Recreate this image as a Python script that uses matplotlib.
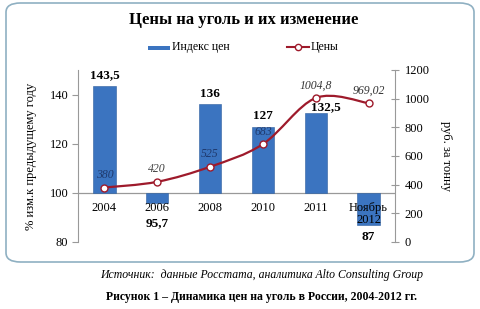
import matplotlib
matplotlib.use("Agg")
import matplotlib.pyplot as plt
import numpy as np
from matplotlib.patches import FancyBboxPatch, Rectangle
from matplotlib.path import Path
from matplotlib.patches import PathPatch
from matplotlib.lines import Line2D

plt.rcParams['font.family'] = ['Liberation Serif', 'DejaVu Serif']

categories = ["2004", "2006", "2008", "2010", "2011", "Ноябрь\n2012"]
index_values = [143.5, 95.7, 136, 127, 132.5, 87]
index_labels = ["143,5", "95,7", "136", "127", "132,5", "87"]
prices = [380, 420, 525, 683, 1004.8, 969.02]
price_labels = ["380", "420", "525", "683", "1004,8", "969,02"]
left_ticks = [80, 100, 120, 140]
right_ticks = [0, 200, 400, 600, 800, 1000, 1200]

fig = plt.figure(figsize=(4.8, 3.09), dpi=100)
fig.patch.set_facecolor('white')

# frame
frame = FancyBboxPatch((6/480, 1-262/309), 468/480, 259/309,
                       boxstyle="round,pad=0,rounding_size=0.03",
                       transform=fig.transFigure, facecolor='none',
                       edgecolor='#8fb0c2', linewidth=1.2, zorder=-1)
fig.patches.append(frame)

ax = fig.add_axes([78/480, 1-242/309, 317/480, 172/309])
ax.set_facecolor('none')
ax2 = ax.twinx()

x = np.arange(len(categories))
base = 100
ax.bar(x, np.array(index_values) - base, bottom=base, width=0.42,
       color='#3b74c0', edgecolor='#2f5f9e', linewidth=0.4, zorder=2)
ax.axhline(100, color='#999999', linewidth=0.9, zorder=1)
ax.set_ylim(80, 150)
ax.set_xlim(-0.5, len(categories) - 0.5)
ax.set_yticks(left_ticks)
ax.set_yticklabels([str(t) for t in left_ticks], fontsize=9)
ax.set_xticks([])
for s in ['top', 'bottom']:
    ax.spines[s].set_visible(False)
    ax2.spines[s].set_visible(False)
ax.spines['left'].set_color('#999999')
ax2.spines['right'].set_color('#999999')
ax.spines['right'].set_visible(False)
ax2.spines['left'].set_visible(False)
ax.tick_params(axis='y', color='#999999', length=4, pad=3)
ax.set_ylabel("% изм.к предыдущему году", fontsize=9, labelpad=9)

for xi, lab in zip(x, categories):
    ax.text(xi, 96.3, lab, ha='center', va='top', fontsize=9, zorder=5,
            linespacing=1.05)

# bar value labels
for xi, v, lab in zip(x, index_values, index_labels):
    if lab == "132,5":
        ax.text(xi + 0.2, v + 2.2, lab, ha='center', va='center', fontsize=9.5,
                fontweight='bold', zorder=5)
    elif v >= base:
        ax.text(xi, v + 1.8, lab, ha='center', va='bottom', fontsize=9.5,
                fontweight='bold', zorder=5)
    else:
        ax.text(xi, min(v - 2.5, 90.0), lab, ha='center', va='top',
                fontsize=9.5, fontweight='bold', zorder=5)

# smooth line via cubic Bezier through the data points
pts = np.column_stack([x, prices]).astype(float)
verts = [tuple(pts[0])]
codes = [Path.MOVETO]
n = len(pts)
for i in range(n - 1):
    p0 = pts[i - 1] if i > 0 else pts[i]
    p1 = pts[i]
    p2 = pts[i + 1]
    p3 = pts[i + 2] if i + 2 < n else pts[i + 1]
    c1 = p1 + (p2 - p0) / 6.0
    c2 = p2 - (p3 - p1) / 6.0
    verts += [tuple(c1), tuple(c2), tuple(p2)]
    codes += [Path.CURVE4] * 3
ax2.add_patch(PathPatch(Path(verts, codes), facecolor='none',
                        edgecolor='#9e1a2b', linewidth=1.6, zorder=3))
ax2.plot(x, prices, linestyle='none', marker='o', markersize=5,
         markerfacecolor='white', markeredgecolor='#9e1a2b',
         markeredgewidth=1.0, zorder=4)
ax2.set_ylim(0, 1200)
ax2.set_yticks(right_ticks)
ax2.set_yticklabels([str(t) for t in right_ticks], fontsize=9)
ax2.tick_params(axis='y', color='#999999', length=6, direction='inout', pad=4)
ax2.set_ylabel("руб. за тонну", fontsize=9, rotation=-90, labelpad=16)

label_colors = ['#1f3a6e', '#444444', '#1f3a6e', '#1f3a6e', '#333333', '#333333']
for xi, p, lab, c in zip(x, prices, price_labels, label_colors):
    ax2.text(xi, p + 45, lab, ha='center', va='bottom', fontsize=8.5,
             style='italic', color=c, zorder=5)

fig.text(0.508, 1 - 20/309, "Цены на уголь и их изменение", ha='center',
         va='center', fontsize=12, fontweight='bold')

# legend
fig.add_artist(Rectangle((148/480, 1 - 49.5/309), 22/480, 4/309,
                         transform=fig.transFigure, facecolor='#3b74c0',
                         edgecolor='none'))
fig.text(172/480, 1 - 47/309, "Индекс цен", ha='left', va='center', fontsize=8.5)
fig.add_artist(Line2D([287/480, 309/480], [1 - 47/309, 1 - 47/309],
                      transform=fig.transFigure, color='#9e1a2b', linewidth=1.5))
fig.add_artist(Line2D([298/480], [1 - 47/309], transform=fig.transFigure,
                      marker='o', markersize=4.5, markerfacecolor='white',
                      markeredgecolor='#9e1a2b', markeredgewidth=1.0))
fig.text(311/480, 1 - 47/309, "Цены", ha='left', va='center', fontsize=8.5)

fig.text(0.545, 1 - 275/309, "Источник:  данные Росстата, аналитика Alto Consulting Group",
         ha='center', va='center', fontsize=8.5, style='italic')
fig.text(0.545, 1 - 297/309, "Рисунок 1 – Динамика цен на уголь в России, 2004-2012 гг.",
         ha='center', va='center', fontsize=8.5, fontweight='bold')

fig.savefig("out.png", dpi=100)
